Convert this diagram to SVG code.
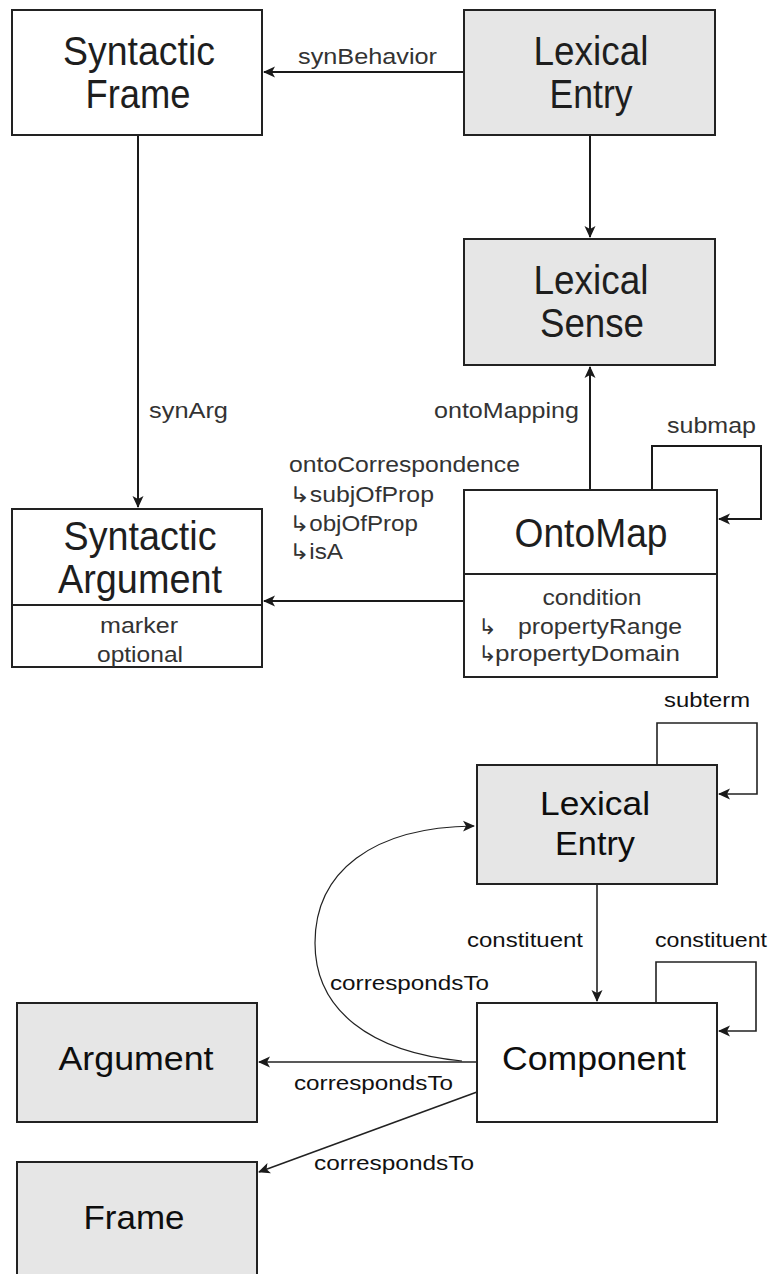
<svg xmlns="http://www.w3.org/2000/svg" width="768" height="1274" viewBox="0 0 768 1274">
  <defs>
    <marker id="arrow" viewBox="0 0 12 12" refX="11" refY="6" markerWidth="12" markerHeight="12" markerUnits="userSpaceOnUse" orient="auto">
      <path d="M0,0.5 L12,6 L0,11.5 L3,6 Z" fill="#1a1a1a"/>
    </marker>
    <style>
      .box { fill: #ffffff; stroke: #222222; stroke-width: 2; }
      .grey { fill: #e6e6e6; }
      .sep { stroke: #222222; stroke-width: 2; fill: none; }
      .title { font-family: "Liberation Sans", Arial, sans-serif; font-size: 40px; fill: #1e1e1e; text-anchor: middle; }
      .title2 { font-family: "Liberation Sans", Arial, sans-serif; font-size: 34px; fill: #0e0e0e; text-anchor: middle; }
      .lbl { font-family: "Liberation Sans", "DejaVu Sans", Arial, sans-serif; font-size: 22px; fill: #333333; }
      .lbl2 { font-family: "Liberation Sans", "DejaVu Sans", Arial, sans-serif; font-size: 20px; fill: #111111; }
      .edge { fill: none; stroke: #1a1a1a; stroke-width: 2; }
      .edge2 { fill: none; stroke: #222222; stroke-width: 1.6; }
      .thin { fill: none; stroke: #222222; stroke-width: 1.2; }
    </style>
  </defs>
  <rect width="768" height="1274" fill="#ffffff"/>

  <!-- connectors -->
  <g id="connectors">
    <path class="edge" d="M464 72 H264" marker-end="url(#arrow)"/>
    <path class="edge" d="M590 135 V237" marker-end="url(#arrow)"/>
    <path class="edge" d="M138 135 V507" marker-end="url(#arrow)"/>
    <path class="edge" d="M590 490 V367" marker-end="url(#arrow)"/>
    <path class="edge" d="M652 490 V446 H761 V519 H719" marker-end="url(#arrow)"/>
    <path class="edge" d="M464 601 H264" marker-end="url(#arrow)"/>

    <path class="edge2" d="M657 765 V723 H757 V794 H719" marker-end="url(#arrow)"/>
    <path class="edge2" d="M597 885 V1001" marker-end="url(#arrow)"/>
    <path class="edge2" d="M656 1003 V962 H756 V1031 H719" marker-end="url(#arrow)"/>
    <path class="edge2" d="M477 1062 H259" marker-end="url(#arrow)"/>
    <path class="thin" d="M462 1061 C370 1052 315 1010 315 943 C315 872 372 827 474 826" marker-end="url(#arrow)"/>
    <path class="edge2" d="M477 1092 L259 1172" marker-end="url(#arrow)"/>

    <text class="lbl" x="298" y="64" textLength="139" lengthAdjust="spacingAndGlyphs">synBehavior</text>
    <text class="lbl" x="149" y="418" textLength="79" lengthAdjust="spacingAndGlyphs">synArg</text>
    <text class="lbl" x="434" y="418" textLength="145" lengthAdjust="spacingAndGlyphs">ontoMapping</text>
    <text class="lbl" x="667" y="433" textLength="89" lengthAdjust="spacingAndGlyphs">submap</text>
    <text class="lbl" x="289" y="472" textLength="231" lengthAdjust="spacingAndGlyphs">ontoCorrespondence</text>
    <text class="lbl" x="289" y="502" textLength="145" lengthAdjust="spacingAndGlyphs">↳subjOfProp</text>
    <text class="lbl" x="289" y="531" textLength="129" lengthAdjust="spacingAndGlyphs">↳objOfProp</text>
    <text class="lbl" x="289" y="559" textLength="54" lengthAdjust="spacingAndGlyphs">↳isA</text>

    <text class="lbl2" x="664" y="707" textLength="86" lengthAdjust="spacingAndGlyphs">subterm</text>
    <text class="lbl2" x="467" y="947" textLength="116" lengthAdjust="spacingAndGlyphs">constituent</text>
    <text class="lbl2" x="655" y="947" textLength="112" lengthAdjust="spacingAndGlyphs">constituent</text>
    <text class="lbl2" x="330" y="990" textLength="159" lengthAdjust="spacingAndGlyphs">correspondsTo</text>
    <text class="lbl2" x="294" y="1090" textLength="159" lengthAdjust="spacingAndGlyphs">correspondsTo</text>
    <text class="lbl2" x="314" y="1170" textLength="160" lengthAdjust="spacingAndGlyphs">correspondsTo</text>
  </g>

  <!-- upper model -->
  <g id="syntactic-frame">
    <rect class="box" x="12" y="10" width="250" height="125"/>
    <text class="title" x="139" y="65" textLength="152" lengthAdjust="spacingAndGlyphs">Syntactic</text>
    <text class="title" x="138" y="108" textLength="105" lengthAdjust="spacingAndGlyphs">Frame</text>
  </g>

  <g id="lexical-entry">
    <rect class="box grey" x="464" y="10" width="251" height="125"/>
    <text class="title" x="591" y="65" textLength="115" lengthAdjust="spacingAndGlyphs">Lexical</text>
    <text class="title" x="591" y="108" textLength="83" lengthAdjust="spacingAndGlyphs">Entry</text>
  </g>

  <g id="lexical-sense">
    <rect class="box grey" x="464" y="239" width="251" height="126"/>
    <text class="title" x="591" y="294" textLength="115" lengthAdjust="spacingAndGlyphs">Lexical</text>
    <text class="title" x="592" y="337" textLength="104" lengthAdjust="spacingAndGlyphs">Sense</text>
  </g>

  <g id="syntactic-argument">
    <rect class="box" x="12" y="509" width="250" height="158"/>
    <path class="sep" d="M12 605 H262"/>
    <text class="title" x="140" y="550" textLength="153" lengthAdjust="spacingAndGlyphs">Syntactic</text>
    <text class="title" x="140" y="593" textLength="164" lengthAdjust="spacingAndGlyphs">Argument</text>
    <text class="lbl" x="139" y="633" text-anchor="middle" textLength="78" lengthAdjust="spacingAndGlyphs">marker</text>
    <text class="lbl" x="140" y="662" text-anchor="middle" textLength="86" lengthAdjust="spacingAndGlyphs">optional</text>
  </g>

  <g id="onto-map">
    <rect class="box" x="464" y="490" width="253" height="187"/>
    <path class="sep" d="M464 574 H717"/>
    <text class="title" x="591" y="547" textLength="153" lengthAdjust="spacingAndGlyphs">OntoMap</text>
    <text class="lbl" x="592" y="605" text-anchor="middle" textLength="99" lengthAdjust="spacingAndGlyphs">condition</text>
    <text class="lbl" x="478" y="634">↳</text>
    <text class="lbl" x="518" y="634" textLength="164" lengthAdjust="spacingAndGlyphs">propertyRange</text>
    <text class="lbl" x="478" y="661">↳</text>
    <text class="lbl" x="495" y="661" textLength="185" lengthAdjust="spacingAndGlyphs">propertyDomain</text>
  </g>

  <!-- decomposition model -->
  <g id="lexical-entry-2">
    <rect class="box grey" x="477" y="765" width="240" height="119"/>
    <text class="title2" x="595" y="815" textLength="110" lengthAdjust="spacingAndGlyphs">Lexical</text>
    <text class="title2" x="595" y="855" textLength="80" lengthAdjust="spacingAndGlyphs">Entry</text>
  </g>

  <g id="component">
    <rect class="box" x="477" y="1003" width="240" height="119"/>
    <text class="title2" x="594" y="1070" textLength="184" lengthAdjust="spacingAndGlyphs">Component</text>
  </g>

  <g id="argument">
    <rect class="box grey" x="17" y="1003" width="240" height="119"/>
    <text class="title2" x="136" y="1070" textLength="155" lengthAdjust="spacingAndGlyphs">Argument</text>
  </g>

  <g id="frame">
    <rect class="box grey" x="17" y="1162" width="240" height="130"/>
    <text class="title2" x="134" y="1229" textLength="101" lengthAdjust="spacingAndGlyphs">Frame</text>
  </g>
</svg>
